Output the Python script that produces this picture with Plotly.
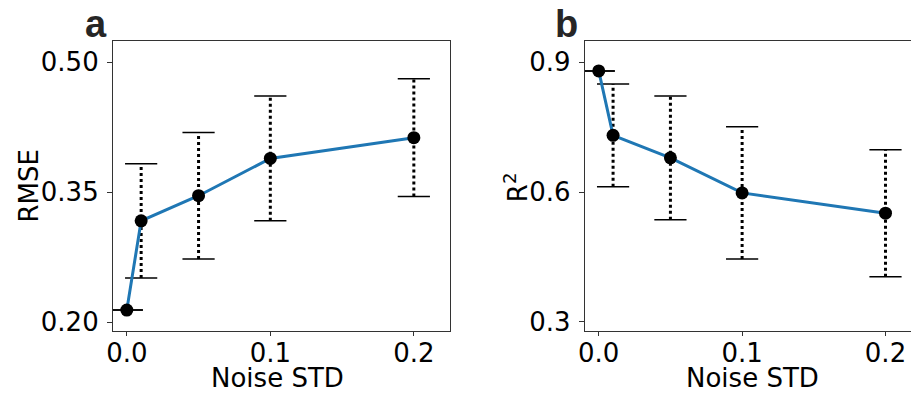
import plotly.graph_objects as go

noise = [0.0, 0.01, 0.05, 0.1, 0.2]
rmse_mean = [0.214, 0.317, 0.346, 0.389, 0.413]
rmse_err = [0.0, 0.066, 0.073, 0.072, 0.068]
r2_mean = [0.880, 0.731, 0.679, 0.598, 0.551]
r2_err = [0.0, 0.119, 0.143, 0.153, 0.147]

x_ticks = [0.0, 0.1, 0.2]
x_ticktext = ["0.0", "0.1", "0.2"]
rmse_ticks = [0.20, 0.35, 0.50]
rmse_ticktext = ["0.20", "0.35", "0.50"]
r2_ticks = [0.3, 0.6, 0.9]
r2_ticktext = ["0.3", "0.6", "0.9"]

W, H = 911, 393
FONT = "DejaVu Sans"
FS = 26
fig = go.Figure()


def add_panel(xs, ys, es, xa, ya):
    # dotted error bars
    ex, ey = [], []
    for x, y, e in zip(xs, ys, es):
        ex += [x, x, None]
        ey += [y - e, y + e, None]
    fig.add_trace(go.Scatter(x=ex, y=ey, mode="lines", xaxis=xa, yaxis=ya,
                             line=dict(color="black", width=3, dash="dot"),
                             showlegend=False, hoverinfo="skip"))
    # caps
    cx = list(xs) + list(xs)
    cy = [y - e for y, e in zip(ys, es)] + [y + e for y, e in zip(ys, es)]
    fig.add_trace(go.Scatter(x=cx, y=cy, mode="markers", xaxis=xa, yaxis=ya,
                             marker=dict(symbol="line-ew", size=23,
                                         line=dict(color="black", width=1.5)),
                             showlegend=False, hoverinfo="skip"))
    # line
    fig.add_trace(go.Scatter(x=xs, y=ys, mode="lines", xaxis=xa, yaxis=ya,
                             line=dict(color="#1f77b4", width=3),
                             showlegend=False))
    # markers
    fig.add_trace(go.Scatter(x=xs, y=ys, mode="markers", xaxis=xa, yaxis=ya,
                             marker=dict(color="black", size=13),
                             showlegend=False))


add_panel(noise, rmse_mean, rmse_err, "x", "y")
add_panel(noise, r2_mean, r2_err, "x2", "y2")

ydom = [1 - 336 / H, 1 - 41.7 / H]
axis_common = dict(showline=True, linecolor="#333333", linewidth=1,
                   ticks="outside", tickwidth=1, tickcolor="#333333",
                   showgrid=False, zeroline=False,
                   tickfont=dict(family=FONT, size=FS, color="black"))
xcommon = dict(ticklen=4, ticklabelstandoff=-5, **axis_common)
ycommon = dict(ticklen=5, ticklabelstandoff=3, **axis_common)

fig.update_layout(
    width=W, height=H, margin=dict(l=0, r=0, t=0, b=0),
    plot_bgcolor="white", paper_bgcolor="white",
    xaxis=dict(domain=[106.7 / W, 446 / W], range=[-0.0097, 0.2249],
               tickvals=x_ticks, ticktext=x_ticktext, mirror=True,
               anchor="y", **xcommon),
    yaxis=dict(domain=ydom, range=[0.190, 0.5245],
               tickvals=rmse_ticks, ticktext=rmse_ticktext, mirror=True,
               anchor="x", **ycommon),
    xaxis2=dict(domain=[582.3 / W, 1.0], range=[-0.0097, (911 - 596.3) / 1445],
                tickvals=x_ticks, ticktext=x_ticktext, mirror=True,
                anchor="y2", **xcommon),
    yaxis2=dict(domain=ydom, range=[0.279, 0.949],
                tickvals=r2_ticks, ticktext=r2_ticktext, mirror=False,
                anchor="x2", **ycommon),
)

tfont = dict(family=FONT, size=FS, color="black")
# axis titles
for txt, xp in [("Noise STD", 273), ("Noise STD", 751.7)]:
    fig.add_annotation(text=txt, xref="paper", yref="paper", x=xp / W, y=1 - 384 / H,
                       xanchor="center", yanchor="middle", showarrow=False, font=tfont)
for txt, xp, yp in [("RMSE", 22, 188.5), ("R<sup>2</sup>", 513, 190)]:
    fig.add_annotation(text=txt, xref="paper", yref="paper", x=xp / W, y=1 - yp / H,
                       xanchor="center", yanchor="middle", textangle=-90,
                       showarrow=False, font=tfont)

for label, xp in [("a", 77), ("b", 550)]:
    fig.add_annotation(text="<b>%s</b>" % label, xref="paper", yref="paper",
                       x=xp / W, y=1 - 24 / H, xanchor="left", yanchor="middle",
                       showarrow=False,
                       font=dict(family="Liberation Sans", size=38, color="#262626"))

fig.write_html("out.html")
